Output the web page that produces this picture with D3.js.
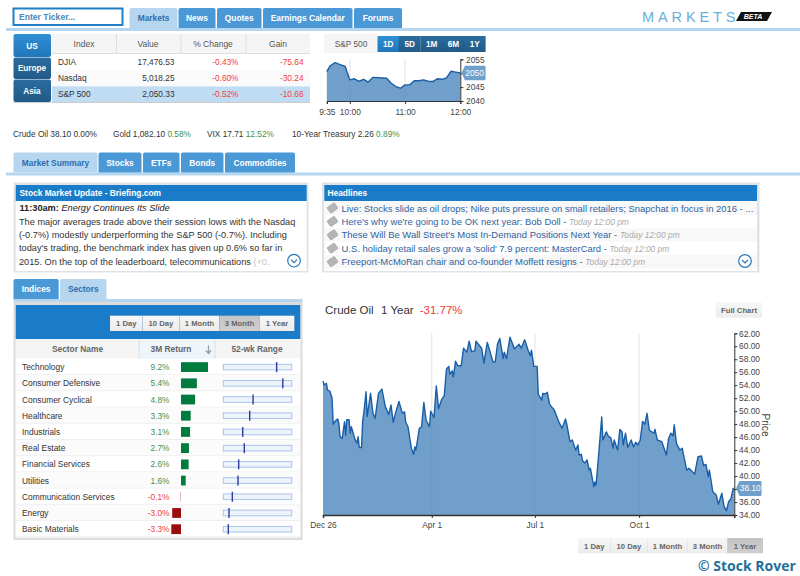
<!DOCTYPE html>
<html>
<head>
<meta charset="utf-8">
<title>Markets</title>
<script src="https://cdn.jsdelivr.net/npm/d3@7"></script>
<style>
  html, body { margin: 0; padding: 0; background: #fff; overflow: hidden; }
  svg { display: block; }
  text { font-family: "Liberation Sans", Arial, sans-serif; }
  .axis text { font-family: "Liberation Sans", Arial, sans-serif; font-size: 8.4px; fill: #444; }
  .axis path, .axis line { stroke: #333; }
</style>
</head>
<body>
<svg id="page" width="800" height="576"></svg>
<script>
const svg = d3.select('#page');

const colors = {
  tabBlue: '#4a98d6',
  tabLight: '#b5d6ee',
  tabText: '#2f6fb0',
  panelBlue: '#1a7cc8',
  area: '#6f9fca',
  line: '#1a5ea8',
  up: '#3f8f4f',
  down: '#f33c3c',
  border: '#dfe3e8'
};

const defs = svg.append('defs');
const gradient = (id, top, bottom) => {
  const g = defs.append('linearGradient').attr('id', id).attr('x1', 0).attr('x2', 0).attr('y1', 0).attr('y2', 1);
  g.append('stop').attr('offset', 0).attr('stop-color', top);
  g.append('stop').attr('offset', 1).attr('stop-color', bottom);
};
gradient('btnActive', '#2f8fd6', '#2177b8');
gradient('btnDark', '#2a6c9e', '#215a88');
gradient('btnLight', '#f7f7f7', '#ececec');
gradient('btnSel', '#c4c4c4', '#cfcfcf');

// small helpers for the page chrome
const rect = (x, y, w, h, fill, rx = 0) => svg.append('rect')
  .attr('x', x).attr('y', y).attr('width', w).attr('height', h).attr('fill', fill).attr('rx', rx);

const label = (x, y, str, opts = {}) => svg.append('text')
  .attr('x', x).attr('y', y)
  .attr('text-anchor', opts.anchor || 'start')
  .attr('font-size', (opts.size || 8.3) + 'px')
  .attr('font-weight', opts.weight || 'normal')
  .attr('font-style', opts.style || 'normal')
  .attr('fill', opts.fill || '#333')
  .text(str);

const drawTabs = (tabs, y, h) => {
  tabs.forEach(t => {
    svg.append('path')
      .attr('d', `M${t.x0},${y + h}V${y + 2}q0,-2 2,-2H${t.x1 - 2}q2,0 2,2V${y + h}Z`)
      .attr('fill', t.active ? colors.tabLight : colors.tabBlue);
    label((t.x0 + t.x1) / 2, y + h / 2 + 3.2, t.name, {
      anchor: 'middle', weight: 'bold', size: 8.4, fill: t.active ? colors.tabText : '#fff'
    });
  });
};

const drawButtons = (btns, y, h, fillFor, textFor, size = 8.2) => {
  btns.forEach(b => {
    rect(b.x0, y, b.x1 - b.x0, h, fillFor(b));
    svg.append('line').attr('x1', b.x1).attr('x2', b.x1).attr('y1', y).attr('y2', y + h)
      .attr('stroke', '#000').attr('stroke-opacity', 0.12);
    label((b.x0 + b.x1) / 2, y + h / 2 + 3, b.name, { anchor: 'middle', weight: 'bold', size, fill: textFor(b) });
  });
};

const chevron = (cx, cy) => {
  svg.append('circle').attr('cx', cx).attr('cy', cy).attr('r', 6.3)
    .attr('fill', '#fff').attr('stroke', '#2a78b8').attr('stroke-width', 1.2);
  svg.append('path').attr('d', `M${cx - 3},${cy - 1}L${cx},${cy + 2}L${cx + 3},${cy - 1}`)
    .attr('fill', 'none').attr('stroke', '#2a78b8').attr('stroke-width', 1.2);
};

const priceTag = (x0, x1, cy, h, str, size) => {
  svg.append('path')
    .attr('d', `M${x0},${cy}L${x0 + 3.5},${cy - h / 2}H${x1 - 1}q1,0 1,1V${cy + h / 2 - 1}q0,1 -1,1H${x0 + 3.5}Z`)
    .attr('fill', colors.area);
  label(x0 + 3.8, cy + 3, str, { fill: '#fff', size });
};

// ---------- top bar ----------
rect(6, 28, 794, 3, colors.tabLight);
rect(13.5, 8.5, 109, 16.5, '#fff').attr('stroke', '#1f7fc6').attr('stroke-width', 2);
label(19, 20, 'Enter Ticker...', { weight: 'bold', size: 8.6, fill: '#4a86bd' });

drawTabs([
  { name: 'Markets', x0: 129.5, x1: 177.5, active: true },
  { name: 'News', x0: 178.5, x1: 215.5 },
  { name: 'Quotes', x0: 217, x1: 261.5 },
  { name: 'Earnings Calendar', x0: 263, x1: 352.5 },
  { name: 'Forums', x0: 354, x1: 402 }
], 8, 20);

svg.append('text').attr('x', 642).attr('y', 21.5)
  .attr('font-size', '14.5px').attr('letter-spacing', '3.9px').attr('fill', '#6aaedb')
  .text('MARKETS');
svg.append('path').attr('d', 'M741,12H772L767,21H736Z').attr('fill', '#111');
label(753, 19.3, 'BETA', { anchor: 'middle', weight: 'bold', style: 'italic', size: 7, fill: '#fff' });

// ---------- index table ----------
const regions = [
  { name: 'US', y0: 34, y1: 57, active: true },
  { name: 'Europe', y0: 57.5, y1: 79 },
  { name: 'Asia', y0: 79.5, y1: 102 }
];
regions.forEach(r => {
  rect(13.5, r.y0, 37.5, r.y1 - r.y0, r.active ? 'url(#btnActive)' : 'url(#btnDark)', 2);
  label(32, (r.y0 + r.y1) / 2 + 3, r.name, { anchor: 'middle', weight: 'bold', size: 8.2, fill: '#fff' });
});

const indexRows = [
  { name: 'DJIA', value: '17,476.53', pct: '-0.43%', gain: '-75.64' },
  { name: 'Nasdaq', value: '5,018.25', pct: '-0.60%', gain: '-30.24' },
  { name: 'S&P 500', value: '2,050.33', pct: '-0.52%', gain: '-10.66', selected: true }
];
rect(52, 34, 258, 19, '#f5f5f5');
rect(52, 53, 258, 1, '#ddd');
[116, 180.5, 245.5].forEach(x => rect(x, 34, 1, 19, '#ddd'));
[['Index', 84], ['Value', 148], ['% Change', 213], ['Gain', 278]].forEach(([t, x]) =>
  label(x, 46.5, t, { anchor: 'middle', size: 8.5, fill: '#555' }));

indexRows.forEach((row, i) => {
  const y0 = 54 + i * 16.2;
  rect(52, y0, 258, 16.2, row.selected ? '#bfdcf2' : (i % 2 ? '#fafafa' : '#fff'));
  label(58, y0 + 11, row.name, { size: 8.3, fill: '#333' });
  label(174.5, y0 + 11, row.value, { anchor: 'end', size: 8.3, fill: '#333' });
  label(238.5, y0 + 11, row.pct, { anchor: 'end', size: 8.3, fill: colors.down });
  label(303.5, y0 + 11, row.gain, { anchor: 'end', size: 8.3, fill: colors.down });
});
rect(13, 102, 297, 1, '#ccc');

// ---------- S&P 500 intraday ----------
rect(324, 34, 53.5, 19, '#f5f5f5');
label(351, 46.5, 'S&P 500', { anchor: 'middle', size: 8.3, fill: '#555' });
drawButtons([
  { name: '1D', x0: 377.5, x1: 399, active: true },
  { name: '5D', x0: 399, x1: 420.5 },
  { name: '1M', x0: 420.5, x1: 443 },
  { name: '6M', x0: 443, x1: 464 },
  { name: '1Y', x0: 464, x1: 485.5 }
], 36, 16, b => b.active ? 'url(#btnActive)' : 'url(#btnDark)', () => '#fff');

// minutes since 9:35, level
const spIntraday = [
  [0, 2050.6], [3.5, 2052.6], [9, 2053.8], [14.5, 2053.1], [20, 2052.4], [25, 2047.6],
  [30, 2048.0], [35, 2047.1], [40, 2047.8], [45, 2046.8], [50, 2048.5], [65, 2048.2],
  [70, 2046.4], [75, 2045.2], [80, 2044.6], [85, 2045.8], [90, 2045.8], [95, 2047.3],
  [100, 2047.3], [105, 2047.6], [110, 2047.1], [115, 2047.0], [120, 2048.0], [125, 2047.8],
  [130, 2048.3], [135, 2050.7], [140, 2050.4], [145, 2050.1]
];

const miniX = d3.scaleLinear().domain([0, 145]).range([326.8, 460.3]);
const miniY = d3.scaleLinear().domain([2040, 2055]).range([101, 59.3]);

const drawAreaChart = (data, x, y, getX, getY) => {
  const base = y.range()[0];
  svg.append('path').datum(data)
    .attr('fill', colors.area)
    .attr('d', d3.area().x(d => x(getX(d))).y0(base).y1(d => y(getY(d))));
  svg.append('path').datum(data)
    .attr('fill', 'none').attr('stroke', colors.line).attr('stroke-width', 1.4)
    .attr('stroke-linejoin', 'round')
    .attr('d', d3.line().x(d => x(getX(d))).y(d => y(getY(d))));
};

const gridLines = (ticks, x, y) => {
  svg.append('g').selectAll('line').data(ticks).join('line')
    .attr('x1', d => x(d)).attr('x2', d => x(d))
    .attr('y1', y.range()[1]).attr('y2', y.range()[0])
    .attr('stroke', '#888').attr('stroke-opacity', 0.2).attr('stroke-width', 1.2);
};

drawAreaChart(spIntraday, miniX, miniY, d => d[0], d => d[1]);
gridLines([25, 85], miniX, miniY);

const miniTimes = { 0: '9:35', 25: '10:00', 85: '11:00', 145: '12:00' };
svg.append('g').attr('class', 'axis').attr('transform', 'translate(0,101)')
  .call(d3.axisBottom(miniX).tickValues([0, 25, 85, 145]).tickSize(3).tickPadding(5)
    .tickFormat(d => miniTimes[d]));
svg.append('g').attr('class', 'axis').attr('transform', 'translate(460.3,0)')
  .call(d3.axisRight(miniY).tickValues([2040, 2045, 2050, 2055]).tickSize(3).tickPadding(2.7).tickFormat(d3.format('d')));
priceTag(461.5, 485.5, miniY(2050.1), 14.5, '2050', 8.3);

// ---------- quote strip ----------
const quotes = [
  { x: 13, text: 'Crude Oil 38.10 ', pct: '0.00%', fill: '#333' },
  { x: 113, text: 'Gold 1,082.10 ', pct: '0.58%', fill: colors.up },
  { x: 207, text: 'VIX 17.71 ', pct: '12.52%', fill: colors.up },
  { x: 292, text: '10-Year Treasury 2.26 ', pct: '0.89%', fill: colors.up }
];
quotes.forEach(q => {
  const t = label(q.x, 137, q.text, { size: 8.3, fill: '#333' });
  t.append('tspan').attr('fill', q.fill).text(q.pct);
});

// ---------- summary tabs ----------
rect(6, 172.5, 794, 3, colors.tabLight);
drawTabs([
  { name: 'Market Summary', x0: 13.5, x1: 97.5, active: true },
  { name: 'Stocks', x0: 98.5, x1: 141.5 },
  { name: 'ETFs', x0: 143, x1: 179.5 },
  { name: 'Bonds', x0: 181, x1: 223.5 },
  { name: 'Commodities', x0: 225, x1: 295 }
], 152.5, 20);

// ---------- briefing box ----------
rect(13.5, 182.5, 295, 90, colors.border);
rect(15.7, 185, 291, 86, '#fff');
rect(15.7, 185, 291, 16, colors.panelBlue);
label(19.5, 196.2, 'Stock Market Update - Briefing.com', { weight: 'bold', size: 8.4, fill: '#fff' });
const lead = label(19.5, 210.5, '11:30am: ', { weight: 'bold', size: 9.2, fill: '#222' });
lead.append('tspan').attr('font-weight', 'normal').attr('font-style', 'italic').text('Energy Continues Its Slide');
[
  'The major averages trade above their session lows with the Nasdaq',
  '(-0.7%) modestly underperforming the S&P 500 (-0.7%). Including',
  "today's trading, the benchmark index has given up 0.6% so far in"
].forEach((str, i) => label(19, 224.6 + i * 13.4, str, { size: 9.2, fill: '#333' }));
const lastLine = label(19, 264.8, '2015. On the top of the leaderboard, telecommunications ', { size: 9.2, fill: '#333' });
lastLine.append('tspan').attr('fill', '#c4c4c4').text('(+0.');
chevron(294, 260.7);

// ---------- headlines ----------
const headlines = [
  { title: 'Live: Stocks slide as oil drops; Nike puts pressure on small retailers; Snapchat in focus in 2016 - ...', time: '' },
  { title: "Here's why we're going to be OK next year: Bob Doll - ", time: 'Today 12:00 pm' },
  { title: "These Will Be Wall Street's Most In-Demand Positions Next Year - ", time: 'Today 12:00 pm' },
  { title: "U.S. holiday retail sales grow a 'solid' 7.9 percent: MasterCard - ", time: 'Today 12:00 pm' },
  { title: 'Freeport-McMoRan chair and co-founder Moffett resigns - ', time: 'Today 12:00 pm' }
];
rect(322, 182.5, 437.5, 90, colors.border);
rect(324.3, 185, 432.7, 86, '#fff');
rect(324.3, 185, 432.7, 16, colors.panelBlue);
label(327.5, 196.2, 'Headlines', { weight: 'bold', size: 8.4, fill: '#fff' });
headlines.forEach((h, i) => {
  const y0 = 201.5 + i * 13.4;
  if (i % 2 === 0) rect(324.3, y0, 432.7, 13.4, '#f8f8f8');
  svg.append('rect').attr('x', 328).attr('y', y0 + 3).attr('width', 9).attr('height', 7).attr('rx', 1)
    .attr('fill', '#b5b5b5').attr('stroke', '#999').attr('stroke-width', 0.5)
    .attr('transform', `rotate(-35 332.5 ${y0 + 6.5})`);
  const t = label(341.5, y0 + 10, h.title, { size: 9.45, fill: '#2f63a0' });
  t.append('tspan').attr('font-style', 'italic').attr('font-size', '8.4px').attr('fill', '#aaa').text(h.time);
});
chevron(745, 261);

// ---------- sectors panel ----------
drawTabs([
  { name: 'Indices', x0: 13.5, x1: 58.7 },
  { name: 'Sectors', x0: 60, x1: 106.5, active: true }
], 279, 20);
rect(13.5, 299, 289, 3, colors.tabLight);
rect(13.5, 302, 289, 238, '#dcdcdc');
rect(15.7, 305, 284.6, 232.5, '#fff');
rect(15.7, 305, 284.6, 34, colors.panelBlue);

const rangeButtons = (x0, y) => {
  const widths = [['1 Day', 32.5], ['10 Day', 37], ['1 Month', 40], ['3 Month', 40], ['1 Year', 35]];
  let x = x0;
  const btns = widths.map(([name, w]) => {
    const b = { name, x0: x, x1: x + w, selected: name === (y > 500 ? '1 Year' : '3 Month') };
    x += w;
    return b;
  });
  drawButtons(btns, y, 15.3, b => b.selected ? 'url(#btnSel)' : 'url(#btnLight)', () => '#666', 7.7);
};
rangeButtons(110, 315.7);

rect(15.7, 339, 284.6, 19.5, '#f5f5f5');
rect(138.7, 339, 76, 19.5, '#eef5fb');
rect(138.7, 339, 1, 19.5, '#ddd');
rect(214.5, 339, 1, 19.5, '#ddd');
label(77.5, 352, 'Sector Name', { anchor: 'middle', weight: 'bold', size: 8.4, fill: '#666' });
label(171, 352, '3M Return', { anchor: 'middle', weight: 'bold', size: 8.4, fill: '#666' });
svg.append('path').attr('d', 'M208.5,345.5V353M206,350.5L208.5,353.5L211,350.5')
  .attr('fill', 'none').attr('stroke', '#999').attr('stroke-width', 1.2);
label(257, 352, '52-wk Range', { anchor: 'middle', weight: 'bold', size: 8.4, fill: '#666' });

// ret: 3M return in %, pos: where the price sits in its 52-week range
const sectors = [
  { name: 'Technology', ret: 9.2, pos: 0.78 },
  { name: 'Consumer Defensive', ret: 5.4, pos: 0.87 },
  { name: 'Consumer Cyclical', ret: 4.8, pos: 0.435 },
  { name: 'Healthcare', ret: 3.3, pos: 0.386 },
  { name: 'Industrials', ret: 3.1, pos: 0.284 },
  { name: 'Real Estate', ret: 2.7, pos: 0.307 },
  { name: 'Financial Services', ret: 2.6, pos: 0.225 },
  { name: 'Utilities', ret: 1.6, pos: 0.215 },
  { name: 'Communication Services', ret: -0.1, pos: 0.132 },
  { name: 'Energy', ret: -3.0, pos: 0.083 },
  { name: 'Basic Materials', ret: -3.3, pos: 0.073 }
];

const rowY = d3.scaleBand().domain(sectors.map(d => d.name)).range([359, 537.3]);
const retX = d3.scaleLinear().domain([0, 9.2]).range([181, 208]);
const posX = d3.scaleLinear().domain([0, 1]).range([223.3, 291.7]);

const rows = svg.append('g').selectAll('g').data(sectors).join('g')
  .attr('transform', d => `translate(0,${rowY(d.name)})`);
const rowH = rowY.bandwidth();

rows.append('rect').attr('x', 15.7).attr('width', 284.6).attr('height', rowH)
  .attr('fill', (d, i) => i % 2 ? '#fbfbfb' : '#fff');
rows.append('line').attr('x1', 15.7).attr('x2', 300.3).attr('y1', rowH - 0.5).attr('y2', rowH - 0.5)
  .attr('stroke', '#efefef');
rows.append('text').attr('x', 22).attr('y', rowH / 2 + 3)
  .attr('font-size', '8.4px').attr('fill', '#333').text(d => d.name);
rows.append('text').attr('x', 169.5).attr('y', rowH / 2 + 3).attr('text-anchor', 'end')
  .attr('font-size', '8.3px')
  .attr('fill', d => d.ret < 0 ? colors.down : colors.up)
  .text(d => d.ret.toFixed(1) + '%');
rows.append('rect')
  .attr('x', d => Math.min(retX(0), retX(d.ret)))
  .attr('y', rowH / 2 - 4.9).attr('height', 9.8)
  .attr('width', d => Math.abs(retX(d.ret) - retX(0)))
  .attr('fill', d => d.ret < 0 ? '#990d0d' : '#007a3d');
rows.append('rect').attr('x', posX(0)).attr('y', rowH / 2 - 2.8)
  .attr('width', posX(1) - posX(0)).attr('height', 5.6)
  .attr('fill', '#eef4fc').attr('stroke', '#a9c3ea').attr('stroke-width', 1);
rows.append('rect')
  .attr('x', d => posX(d.pos) - 0.7).attr('y', rowH / 2 - 5)
  .attr('width', 1.4).attr('height', 10)
  .attr('fill', '#2d3e9e');

// ---------- crude oil chart ----------
const title = label(325, 314, 'Crude Oil', { size: 11.5, fill: '#333' });
title.append('tspan').attr('dx', 7.5).text('1 Year');
title.append('tspan').attr('dx', 6).attr('fill', colors.down).text('-31.77%');

rect(715.7, 302.3, 46.6, 15.2, 'url(#btnLight)', 2);
label(739, 312.7, 'Full Chart', { anchor: 'middle', weight: 'bold', size: 7.7, fill: '#666' });

// days since Dec 26 2014, close
const crudeOil = [
  [0, 54.65], [1, 54.03], [3, 54.29], [4, 53.26], [6, 53.1], [8, 52.0], [9, 48.0], [11, 48.5],
  [13, 48.8], [14, 48.1], [15, 46.07], [17, 45.8], [19, 48.38], [20, 46.3], [21, 48.7], [23, 48.7],
  [24, 46.6], [25, 47.6], [28, 45.8], [30, 45.05], [31, 46.07], [32, 44.4], [34, 44.4], [35, 48.4],
  [36, 49.7], [38, 53.0], [39, 49.2], [42, 52.75], [44, 49.7], [46, 48.9], [49, 52.75], [52, 53.4],
  [55, 50.7], [58, 49.5], [60, 50.95], [62, 48.3], [64, 49.7], [67, 51.5], [70, 49.7], [72, 49.9],
  [73, 48.3], [75, 47.6], [78, 44.3], [80, 43.35], [81, 44.5], [82, 44.0], [85, 47.35], [87, 47.6],
  [89, 51.36], [91, 48.6], [94, 47.6], [95, 50.0], [98, 49.0], [100, 53.9], [102, 50.4], [105, 51.9],
  [107, 52.4], [109, 56.5], [111, 56.9], [112, 55.7], [114, 56.2], [115, 55.3], [117, 57.7], [119, 57.0],
  [122, 57.0], [124, 59.7], [127, 59.1], [129, 60.8], [131, 59.2], [134, 59.3], [135, 60.8], [140, 59.7],
  [142, 57.4], [145, 60.6], [147, 59.4], [150, 57.6], [152, 57.6], [154, 60.3], [156, 61.2], [159, 58.1],
  [160, 59.1], [162, 58.1], [165, 61.4], [169, 59.6], [173, 60.3], [175, 59.7], [178, 61.0], [181, 59.4],
  [183, 58.55], [184, 59.4], [186, 56.9], [189, 56.9], [190, 52.6], [193, 51.7], [194, 52.75], [196, 52.65],
  [198, 52.9], [200, 51.05], [204, 50.2], [208, 48.4], [211, 47.35], [214, 48.8], [215, 48.1], [218, 45.3],
  [220, 45.56], [223, 44.0], [225, 44.8], [226, 43.25], [228, 43.35], [229, 42.4], [231, 42.0], [233, 42.5],
  [235, 40.9], [236, 41.2], [239, 38.37], [240, 39.1], [241, 38.6], [243, 42.7], [246, 49.1], [247, 45.56],
  [250, 46.8], [252, 46.1], [254, 45.9], [256, 44.3], [257, 45.56], [260, 44.0], [262, 47.2], [264, 46.8],
  [265, 44.8], [267, 46.6], [269, 44.4], [272, 45.56], [274, 44.5], [276, 45.2], [278, 44.8], [280, 45.56],
  [282, 48.4], [284, 48.0], [286, 49.67], [288, 47.1], [292, 46.6], [293, 47.2], [295, 45.56], [299, 45.3],
  [301, 44.3], [303, 43.25], [305, 45.8], [307, 46.6], [309, 46.2], [310, 47.9], [312, 45.0], [315, 44.0],
  [317, 44.3], [321, 40.9], [323, 41.2], [328, 40.3], [331, 43.0], [334, 43.1], [336, 41.6], [338, 41.8],
  [340, 39.9], [341, 40.9], [344, 37.6], [347, 37.1], [349, 35.65], [352, 37.35], [354, 35.3], [356, 34.65],
  [358, 36.05], [360, 36.5], [362, 38.1], [363, 38.1]
];

const dayToDate = day => new Date(2014, 11, 26 + day);
const oilX = d3.scaleTime().domain([dayToDate(0), dayToDate(363)]).range([323, 734.3]);
const oilY = d3.scaleLinear().domain([34, 62]).range([515, 333.3]);

drawAreaChart(crudeOil, oilX, oilY, d => dayToDate(d[0]), d => d[1]);

const oilTicks = [new Date(2014, 11, 26), new Date(2015, 3, 1), new Date(2015, 6, 1), new Date(2015, 9, 1)];
gridLines(oilTicks.slice(1), oilX, oilY);

const oilTimeFormat = d3.timeFormat('%b %-d');
svg.append('g').attr('class', 'axis').attr('transform', 'translate(0,515)')
  .call(d3.axisBottom(oilX).tickValues(oilTicks).tickSize(3).tickPadding(4).tickFormat(oilTimeFormat))
  .call(g => g.select('.domain').attr('stroke-width', 1.5));
svg.append('g').attr('class', 'axis').attr('transform', 'translate(734.3,0)')
  .call(d3.axisRight(oilY).tickValues(d3.range(34, 63, 2)).tickSize(3).tickPadding(1.7).tickFormat(d3.format('.2f')));

svg.append('text').attr('transform', 'translate(761.5,425) rotate(90)')
  .attr('text-anchor', 'middle').attr('font-size', '10.2px').attr('fill', '#444').text('Price');
priceTag(736, 761.5, oilY(38.1), 15, '38.10', 8.4);

rangeButtons(578, 538);

svg.append('text').attr('x', 698).attr('y', 571)
  .style('font-family', '"Open Sans"')
  .attr('font-size', '14px').attr('font-weight', 'bold').attr('fill', '#1f7099')
  .text('© Stock Rover');
</script>
</body>
</html>
